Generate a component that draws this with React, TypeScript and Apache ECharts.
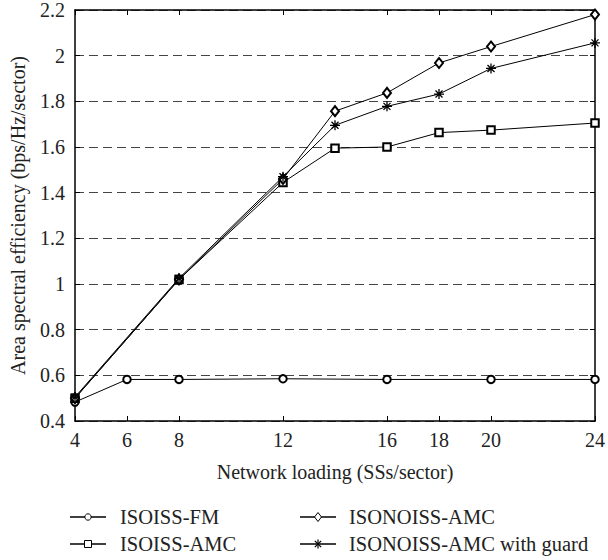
import React, { useEffect, useRef } from "react";
import * as echarts from "echarts";

const xTicks = [4, 6, 8, 12, 16, 18, 20, 24];
const fmX = [4, 6, 8, 12, 16, 20, 24];
const fmY = [0.483, 0.582, 0.582, 0.585, 0.582, 0.582, 0.582];
const ampX = [4, 8, 12, 14, 16, 18, 20, 24];
const isoissAmcY = [0.5, 1.02, 1.445, 1.595, 1.6, 1.663, 1.674, 1.705];
const isonoissAmcY = [0.5, 1.02, 1.46, 1.757, 1.837, 1.968, 2.04, 2.18];
const guardY = [0.505, 1.025, 1.47, 1.695, 1.778, 1.832, 1.944, 2.056];
const names = ["ISOISS-FM", "ISOISS-AMC", "ISONOISS-AMC", "ISONOISS-AMC with guard"];

const FONT = "Liberation Serif";
const TXT = "#222";
const starPath = "path://M5,0 L5,10 M0,5 L10,5 M1.5,1.5 L8.5,8.5 M1.5,8.5 L8.5,1.5";

function legendItem(name: string, kind: string, lx: number, y: number, tx: number): any[] {
  const cx = (lx + lx + 36) / 2;
  const els: any[] = [
    { type: "line", shape: { x1: lx, y1: y, x2: lx + 36, y2: y }, style: { stroke: "#000", lineWidth: 1.3 } },
  ];
  if (kind === "circle") {
    els.push({ type: "circle", shape: { cx, cy: y, r: 3.2 }, style: { fill: "#fff", stroke: "#000", lineWidth: 1 } });
  } else if (kind === "rect") {
    els.push({ type: "rect", shape: { x: cx - 3.5, y: y - 3.5, width: 7, height: 7 }, style: { fill: "#fff", stroke: "#000", lineWidth: 1 } });
  } else if (kind === "diamond") {
    els.push({
      type: "polygon",
      shape: { points: [[cx, y - 4.5], [cx + 3.5, y], [cx, y + 4.5], [cx - 3.5, y]] },
      style: { fill: "#fff", stroke: "#000", lineWidth: 1 },
    });
  } else {
    const r = 4.5;
    const d = 3.2;
    els.push({ type: "line", shape: { x1: cx, y1: y - r, x2: cx, y2: y + r }, style: { stroke: "#000", lineWidth: 1.2 } });
    els.push({ type: "line", shape: { x1: cx - d, y1: y - d, x2: cx + d, y2: y + d }, style: { stroke: "#000", lineWidth: 1.2 } });
    els.push({ type: "line", shape: { x1: cx - d, y1: y + d, x2: cx + d, y2: y - d }, style: { stroke: "#000", lineWidth: 1.2 } });
  }
  els.push({
    type: "text",
    x: tx,
    y,
    style: { text: name, fill: TXT, font: `20.5px "${FONT}"`, textVerticalAlign: "middle", verticalAlign: "middle" },
  });
  return els;
}

export default function App() {
  const ref = useRef<HTMLDivElement>(null);
  useEffect(() => {
    if (!ref.current) return;
    const chart = echarts.init(ref.current, undefined, { renderer: "svg" });
    const zip = (xs: number[], ys: number[]) => xs.map((x, i) => [x, ys[i]]);
    const lineStyle = { color: "#000", width: 1 };
    const axisLineStyle = { show: true, lineStyle: { color: "#000", width: 1.5 } };
    const row1 = 517;
    const row2 = 544;
    chart.setOption({
      animation: false,
      backgroundColor: "#fff",
      textStyle: { fontFamily: FONT },
      grid: { left: 75, right: 11, top: 10, bottom: 139 },
      xAxis: [
        {
          type: "value",
          position: "bottom",
          min: 4,
          max: 24,
          interval: 2,
          name: "Network loading (SSs/sector)",
          nameLocation: "middle",
          nameGap: 41,
          nameTextStyle: { fontFamily: FONT, fontSize: 20, color: TXT },
          axisLine: axisLineStyle,
          axisTick: { show: true, inside: true, length: 5, customValues: xTicks, lineStyle: { color: "#000" } },
          axisLabel: { customValues: xTicks, margin: 9, fontFamily: FONT, fontSize: 20, color: TXT },
          splitLine: { show: false },
        },
        {
          type: "value",
          position: "top",
          min: 4,
          max: 24,
          interval: 2,
          axisLine: axisLineStyle,
          axisTick: { show: true, inside: true, length: 5, customValues: xTicks, lineStyle: { color: "#000" } },
          axisLabel: { show: false },
          splitLine: { show: false },
        },
      ],
      yAxis: [
        {
          type: "value",
          position: "left",
          min: 0.4,
          max: 2.2,
          interval: 0.2,
          name: "Area spectral efficiency (bps/Hz/sector)",
          nameLocation: "middle",
          nameGap: 47,
          nameTextStyle: { fontFamily: FONT, fontSize: 20, color: TXT },
          axisLine: axisLineStyle,
          axisTick: { show: true, inside: true, length: 5, lineStyle: { color: "#000" } },
          axisLabel: {
            margin: 10,
            fontFamily: FONT,
            fontSize: 20,
            color: TXT,
            formatter: (v: number) => String(Math.round(v * 10) / 10),
          },
          splitLine: { show: true, lineStyle: { color: "#444", width: 1, type: [9, 5] } },
        },
        {
          type: "value",
          position: "right",
          min: 0.4,
          max: 2.2,
          interval: 0.2,
          axisLine: axisLineStyle,
          axisTick: { show: true, inside: true, length: 5, lineStyle: { color: "#000" } },
          axisLabel: { show: false },
          splitLine: { show: false },
        },
      ],
      graphic: [
        ...legendItem(names[0], "circle", 70, row1, 120),
        ...legendItem(names[1], "rect", 70, row2, 120),
        ...legendItem(names[2], "diamond", 300, row1, 349),
        ...legendItem(names[3], "star", 300, row2, 349),
      ],
      series: [
        {
          name: names[0],
          type: "line",
          data: zip(fmX, fmY),
          symbol: "emptyCircle",
          symbolSize: 7.5,
          lineStyle,
          itemStyle: { color: "#000", borderWidth: 1 },
          z: 3,
        },
        {
          name: names[1],
          type: "line",
          data: zip(ampX, isoissAmcY),
          symbol: "emptyRect",
          symbolSize: 7.5,
          lineStyle,
          itemStyle: { color: "#000", borderWidth: 1 },
          z: 4,
        },
        {
          name: names[2],
          type: "line",
          data: zip(ampX, isonoissAmcY),
          symbol: "emptyDiamond",
          symbolSize: [8, 10],
          lineStyle,
          itemStyle: { color: "#000", borderWidth: 1 },
          z: 5,
        },
        {
          name: names[3],
          type: "line",
          data: zip(ampX, guardY),
          symbol: starPath,
          symbolSize: 10,
          lineStyle,
          itemStyle: { color: "#000", borderColor: "#000", borderWidth: 1.3 },
          z: 6,
        },
      ],
    });
    return () => chart.dispose();
  }, []);
  return (
    <div
      ref={ref}
      style={{ position: "fixed", left: 0, top: 0, width: 608, height: 560, background: "#fff" }}
    />
  );
}
